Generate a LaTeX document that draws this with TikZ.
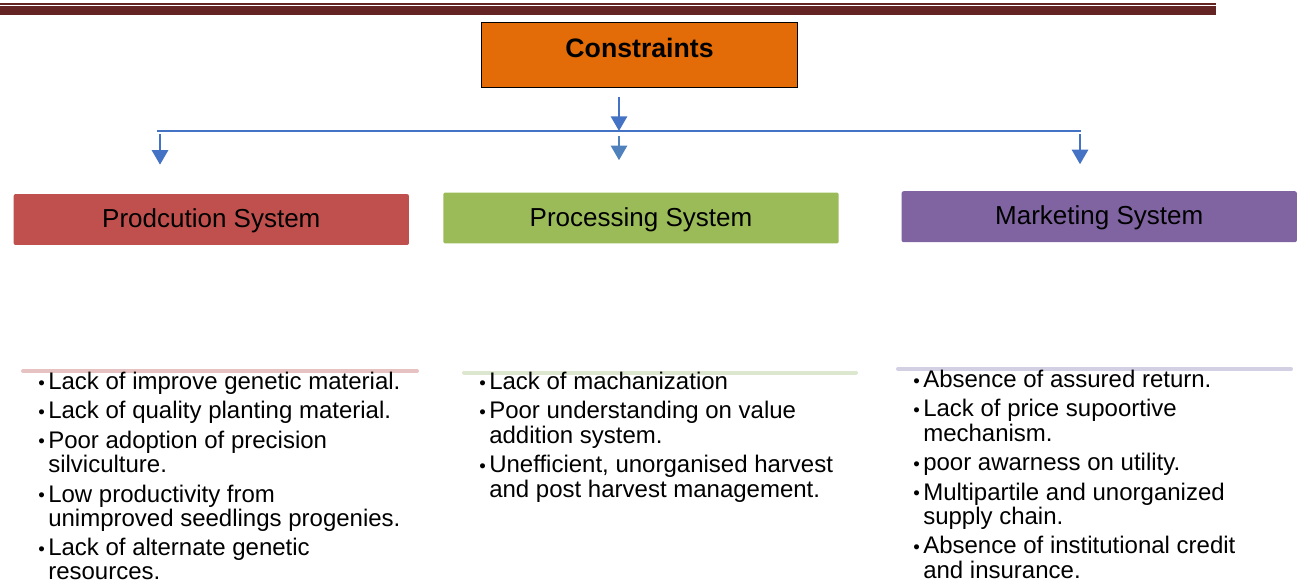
\documentclass[tikz,border=0pt]{standalone}
\usepackage{fontspec}
\setmainfont{Liberation Sans}
\usetikzlibrary{arrows.meta}
\definecolor{barred}{HTML}{632423}
\definecolor{consorange}{HTML}{E36C09}
\definecolor{linkblue}{HTML}{4472C4}
\definecolor{linkblue2}{HTML}{4F81BD}
\definecolor{prodred}{HTML}{C0504D}
\definecolor{procgreen}{HTML}{9BBB59}
\definecolor{markpurple}{HTML}{8064A2}
\definecolor{prodpale}{HTML}{E6C3C2}
\definecolor{procpale}{HTML}{DDE6CE}
\definecolor{markpale}{HTML}{D3D0E3}
\tikzset{
  consbox/.style={draw=black, line width=0.8pt, fill=consorange, inner sep=0pt,
    minimum width=237pt, text height=25.8pt, text depth=22.5pt,
    font=\fontsize{20}{24}\selectfont\bfseries},
  sysbox/.style={rounded corners=1.5pt, inner sep=0pt, minimum width=296.5pt,
    text height=25.2pt, text depth=13pt, font=\fontsize{19.5}{23}\selectfont},
  bus/.style={linkblue, line width=1.3pt},
  arr/.style={linkblue, line width=2.2pt, -{Triangle[width=12pt,length=11pt]}},
  paleline/.style={line width=3pt, line cap=round},
  listnode/.style={anchor=north west, inner sep=0pt, font=\fontsize{18}{18}\selectfont}
}
\newcommand{\bul}{\makebox[7.5pt][l]{\fontsize{14}{14}\selectfont\raisebox{0.5pt}{\textbullet}}}
\begin{document}
\begin{tikzpicture}[x=0.75pt,y=-0.75pt]
\useasboundingbox (0,0) rectangle (1301,583);
    %Top bar
    \fill[barred] (0,3) rectangle (1216,4.5);
    \fill[barred] (0,6) rectangle (1216,15);
    %Constraints
    \node[consbox, anchor=north west] (cons) at (481,22.3) {Constraints};
    %Systems
    \foreach \n/\c/\x/\y/\t in {
    prod/prodred/211.3/219.5/Prodcution System,
    proc/procgreen/641/218/Processing System,
    mark/markpurple/1099.2/216.7/Marketing System}{\node[sysbox, fill=\c] (\n) at (\x,\y) {\t};}
    %Arrows
    \coordinate (busL) at (160,131);
    \coordinate (busM) at (619,131);
    \coordinate (busR) at (1080,131);
    \draw[bus] (157,131) -- (1081,131);
    \draw[arr, shorten <=6.75pt] (busM |- cons.south) -- (busM);
    \draw[arr, shorten <=2.25pt, shorten >=21.75pt] (busL) -- (busL |- prod.north);
    \draw[arr, linkblue2, shorten <=3.75pt, shorten >=24pt] (busM) -- (busM |- proc.north);
    \draw[arr, shorten <=2.25pt, shorten >=20pt] (busR) -- (busR |- mark.north);
    %Pale lines
    \foreach \xa/\xb/\y/\c in {
    23/417/371/prodpale, 464/856/372.5/procpale, 898/1291/369/markpale}{\draw[paleline, \c] (\xa,\y) -- (\xb,\y);}
    %Lists
    \node[listnode] (prodlist) at (38,372) {\begin{tabular}{@{}l@{}l@{}}
      \bul & Lack of improve genetic material.\\[3.5pt]
      \bul & Lack of quality planting material.\\[3.5pt]
      \bul & Poor adoption of precision\\
           & silviculture.\\[3.5pt]
      \bul & Low productivity from\\
           & unimproved seedlings progenies.\\[3.5pt]
      \bul & Lack of alternate genetic\\
           & resources.
    \end{tabular}};
    \node[listnode] (proclist) at (479,372) {\begin{tabular}{@{}l@{}l@{}}
      \bul & Lack of machanization\\[3.5pt]
      \bul & Poor understanding on value\\
           & addition system.\\[3.5pt]
      \bul & Unefficient, unorganised harvest\\
           & and post harvest management.
    \end{tabular}};
    \node[listnode] (marklist) at (913,370) {\begin{tabular}{@{}l@{}l@{}}
      \bul & Absence of assured return.\\[3.5pt]
      \bul & Lack of price supoortive\\
           & mechanism.\\[3.5pt]
      \bul & poor awarness on utility.\\[3.5pt]
      \bul & Multipartile and unorganized\\
           & supply chain.\\[3.5pt]
      \bul & Absence of institutional credit\\
           & and insurance.
    \end{tabular}};
\end{tikzpicture}
\end{document}
